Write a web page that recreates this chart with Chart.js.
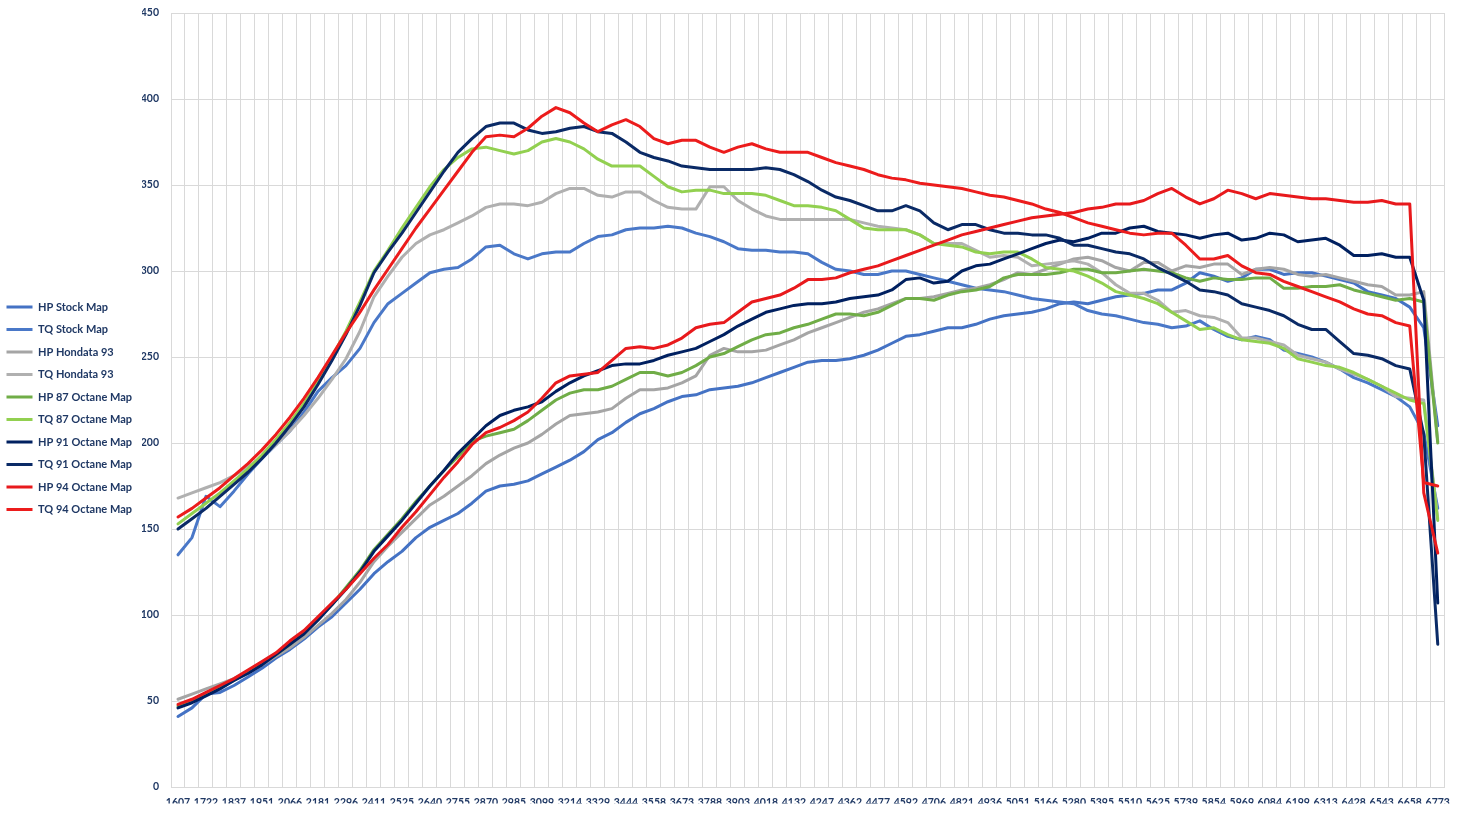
<!DOCTYPE html>
<html>
<head>
<meta charset="utf-8">
<script src="https://cdn.jsdelivr.net/npm/chart.js@4.4.0/dist/chart.umd.min.js"></script>
<style>
  html, body { margin: 0; padding: 0; background: #ffffff; }
  #wrap { width: 1459px; height: 815px; position: relative; }
</style>
</head>
<body>
<div id="wrap"><canvas id="dyno"></canvas></div>
<script>
// rpm for each row of the log (only every other one is printed on the axis)
const rpmLabels = [1607, 1664, 1722, 1779, 1837, 1894, 1951, 2009, 2066, 2123, 2181, 2238, 2296, 2353, 2411, 2468, 2525, 2583, 2640, 2697, 2755, 2812, 2870, 2927, 2985, 3042, 3099, 3157, 3214, 3271, 3329, 3386, 3444, 3501, 3558, 3616, 3673, 3730, 3788, 3845, 3903, 3960, 4018, 4075, 4132, 4190, 4247, 4304, 4362, 4419, 4477, 4534, 4592, 4649, 4706, 4764, 4821, 4878, 4936, 4993, 5051, 5108, 5166, 5223, 5280, 5338, 5395, 5452, 5510, 5567, 5625, 5682, 5739, 5797, 5854, 5911, 5969, 6026, 6084, 6141, 6199, 6256, 6313, 6371, 6428, 6485, 6543, 6600, 6658, 6715, 6773];

// stock map
const hpStock = [41, 46, 54, 55, 59, 64, 69, 75, 80, 86, 93, 99, 107, 115, 124,
  131, 137, 145, 151, 155, 159, 165, 172, 175, 176, 178, 182, 186, 190, 195,
  202, 206, 212, 217, 220, 224, 227, 228, 231, 232, 233, 235, 238, 241, 244,
  247, 248, 248, 249, 251, 254, 258, 262, 263, 265, 267, 267, 269, 272, 274,
  275, 276, 278, 281, 282, 281, 283, 285, 286, 287, 289, 289, 293, 299, 297,
  294, 296, 301, 301, 298, 299, 299, 297, 295, 293, 288, 286, 284, 279, 267, 210];
const tqStock = [135, 145, 169, 163, 172, 182, 191, 199, 207, 218, 230, 238, 245, 255, 270,
  281, 287, 293, 299, 301, 302, 307, 314, 315, 310, 307, 310, 311, 311, 316,
  320, 321, 324, 325, 325, 326, 325, 322, 320, 317, 313, 312, 312, 311, 311,
  310, 305, 301, 300, 298, 298, 300, 300, 298, 296, 294, 292, 290, 289, 288,
  286, 284, 283, 282, 281, 277, 275, 274, 272, 270, 269, 267, 268, 271, 266,
  262, 260, 262, 260, 254, 252, 250, 247, 243, 238, 235, 231, 227, 221, 206, 162];

// hondata 93
const hpHondata = [51, 54, 57, 60, 63, 67, 71, 76, 81, 87, 94, 101, 109, 119, 131,
  140, 148, 156, 164, 169, 175, 181, 188, 193, 197, 200, 205, 211, 216, 217,
  218, 220, 226, 231, 231, 232, 235, 239, 251, 255, 253, 253, 254, 257, 260,
  264, 267, 270, 273, 276, 278, 281, 284, 284, 285, 287, 289, 290, 292, 295,
  299, 298, 301, 304, 307, 308, 306, 302, 300, 305, 305, 300, 303, 302, 304,
  304, 298, 301, 302, 301, 298, 297, 298, 296, 294, 292, 291, 286, 286, 288, 201];
const tqHondata = [168, 171, 174, 177, 181, 186, 192, 199, 207, 216, 226, 237, 249, 265, 285,
  297, 308, 316, 321, 324, 328, 332, 337, 339, 339, 338, 340, 345, 348, 348,
  344, 343, 346, 346, 341, 337, 336, 336, 349, 349, 341, 336, 332, 330, 330,
  330, 330, 330, 330, 328, 326, 325, 324, 321, 316, 316, 316, 312, 308, 309,
  308, 303, 304, 305, 306, 304, 299, 292, 287, 287, 283, 276, 277, 274, 273,
  270, 261, 261, 259, 257, 251, 249, 247, 243, 240, 237, 233, 227, 226, 225, 156];

// 87 octane
const hp87 = [47, 50, 54, 58, 62, 67, 72, 77, 83, 90, 98, 106, 116, 126, 138,
  147, 156, 166, 175, 184, 192, 201, 204, 206, 208, 213, 219, 225, 229, 231,
  231, 233, 237, 241, 241, 239, 241, 245, 250, 252, 256, 260, 263, 264, 267,
  269, 272, 275, 275, 274, 276, 280, 284, 284, 283, 286, 288, 289, 291, 296,
  298, 298, 298, 299, 301, 301, 299, 299, 300, 301, 300, 299, 296, 294, 296,
  295, 295, 296, 296, 290, 290, 291, 291, 292, 289, 287, 285, 283, 284, 282, 200];
const tq87 = [153, 159, 165, 171, 178, 185, 193, 202, 212, 223, 236, 250, 265, 282, 300,
  312, 325, 337, 349, 359, 366, 371, 372, 370, 368, 370, 375, 377, 375, 371,
  365, 361, 361, 361, 355, 349, 346, 347, 347, 345, 345, 345, 344, 341, 338,
  338, 337, 335, 330, 325, 324, 324, 324, 321, 316, 315, 314, 311, 310, 311,
  311, 307, 302, 301, 300, 297, 293, 288, 286, 284, 281, 276, 271, 266, 267,
  263, 260, 259, 258, 255, 249, 247, 245, 244, 241, 237, 233, 229, 225, 223, 155];

// 91 octane
const hp91 = [46, 49, 53, 57, 62, 66, 71, 77, 83, 89, 97, 106, 115, 125, 137,
  146, 155, 165, 175, 184, 194, 202, 210, 216, 219, 221, 224, 230, 235, 239,
  242, 245, 246, 246, 248, 251, 253, 255, 259, 263, 268, 272, 276, 278, 280,
  281, 281, 282, 284, 285, 286, 289, 295, 296, 293, 294, 300, 303, 304, 307,
  310, 313, 316, 318, 317, 319, 322, 322, 325, 326, 323, 322, 321, 319, 321,
  322, 318, 319, 322, 321, 317, 318, 319, 315, 309, 309, 310, 308, 308, 283, 107];
const tq91 = [150, 156, 162, 169, 176, 183, 191, 200, 210, 221, 234, 248, 263, 280, 299,
  311, 322, 334, 346, 358, 369, 377, 384, 386, 386, 382, 380, 381, 383, 384,
  381, 380, 375, 369, 366, 364, 361, 360, 359, 359, 359, 359, 360, 359, 356,
  352, 347, 343, 341, 338, 335, 335, 338, 335, 328, 324, 327, 327, 324, 322,
  322, 321, 321, 319, 315, 315, 313, 311, 310, 307, 302, 298, 294, 289, 288,
  286, 281, 279, 277, 274, 269, 266, 266, 259, 252, 251, 249, 245, 243, 205, 83];

// 94 octane
const hp94 = [48, 51, 55, 59, 63, 68, 73, 78, 85, 91, 99, 107, 115, 124, 133,
  141, 151, 160, 170, 180, 189, 199, 206, 209, 213, 218, 226, 235, 239, 240,
  241, 248, 255, 256, 255, 257, 261, 267, 269, 270, 276, 282, 284, 286, 290,
  295, 295, 296, 299, 301, 303, 306, 309, 312, 315, 318, 321, 323, 325, 327,
  329, 331, 332, 333, 334, 336, 337, 339, 339, 341, 345, 348, 343, 339, 342,
  347, 345, 342, 345, 344, 343, 342, 342, 341, 340, 340, 341, 339, 339, 171, 136];
const tq94 = [157, 162, 168, 174, 181, 188, 196, 205, 215, 226, 238, 251, 264, 276, 289,
  301, 313, 325, 336, 347, 358, 369, 378, 379, 378, 383, 390, 395, 392, 386,
  381, 385, 388, 384, 377, 374, 376, 376, 372, 369, 372, 374, 371, 369, 369,
  369, 366, 363, 361, 359, 356, 354, 353, 351, 350, 349, 348, 346, 344, 343,
  341, 339, 336, 334, 331, 328, 326, 324, 322, 321, 322, 322, 315, 307, 307,
  309, 303, 299, 298, 294, 291, 288, 285, 282, 278, 275, 274, 270, 268, 177, 175];

const textColor = '#1f3864';
const gridColor = '#d9d9d9';
const plotLeft = 171;

function line(label, data, color, order) {
  return {
    label: label,
    data: data,
    borderColor: color,
    backgroundColor: color,
    borderWidth: 3,
    pointRadius: 0,
    pointHoverRadius: 0,
    tension: 0,
    borderJoinStyle: 'round',
    borderCapStyle: 'round',
    order: order
  };
}

new Chart(document.getElementById('dyno'), {
  type: 'line',
  data: {
    labels: rpmLabels,
    datasets: [
      line('HP Stock Map', hpStock, '#4472c4', 9),
      line('TQ Stock Map', tqStock, '#4a78c8', 8),
      line('HP Hondata 93', hpHondata, '#a5a5a5', 7),
      line('TQ Hondata 93', tqHondata, '#b0b0b0', 6),
      line('HP 87 Octane Map', hp87, '#70ad47', 5),
      line('TQ 87 Octane Map', tq87, '#92d050', 4),
      line('HP 91 Octane Map', hp91, '#002060', 3),
      line('TQ 91 Octane Map', tq91, '#0a2a66', 2),
      line('HP 94 Octane Map', hp94, '#e8191c', 1),
      line('TQ 94 Octane Map', tq94, '#ec1c1c', 0)
    ]
  },
  options: {
    responsive: true,
    maintainAspectRatio: false,
    animation: false,
    events: [],
    layout: {
      padding: { top: 13, right: 12, bottom: 11.5, left: -5 }
    },
    plugins: {
      tooltip: { enabled: false },
      legend: {
        position: 'left',
        labels: {
          usePointStyle: true,
          pointStyle: 'line',
          pointStyleWidth: 26,
          padding: 11.5,
          color: textColor,
          font: { family: 'Lato', weight: 'bold', size: 11 },
          // keep the dataset order, not the drawing order
          sort: function(a, b) { return a.datasetIndex - b.datasetIndex; }
        }
      }
    },
    scales: {
      x: {
        offset: true,
        grid: { offset: true, color: gridColor, drawTicks: false },
        border: { color: gridColor },
        ticks: {
          autoSkip: false,
          maxRotation: 0,
          padding: 9,
          color: textColor,
          font: { family: 'Lato', weight: 'bold', size: 10.5 },
          // label every second rpm row, keep all the grid lines
          callback: function(value, index) {
            return index % 2 === 0 ? this.getLabelForValue(value) : '';
          }
        },
        afterFit: function(scale) {
          scale.height = 16.5;
        }
      },
      y: {
        min: 0,
        max: 450,
        // invisible tick marks give the gap between labels and plot
        grid: { color: gridColor, drawTicks: true, tickLength: 12, tickColor: 'rgba(0,0,0,0)' },
        border: { color: gridColor },
        ticks: {
          stepSize: 50,
          padding: 0,
          color: textColor,
          font: { family: 'Lato', weight: 'bold', size: 10.5 }
        },
        afterFit: function(scale) {
          const legendWidth = scale.chart.legend ? scale.chart.legend.width : 0;
          scale.width = plotLeft + 5 - legendWidth;
        }
      }
    }
  }
});
</script>
</body>
</html>
